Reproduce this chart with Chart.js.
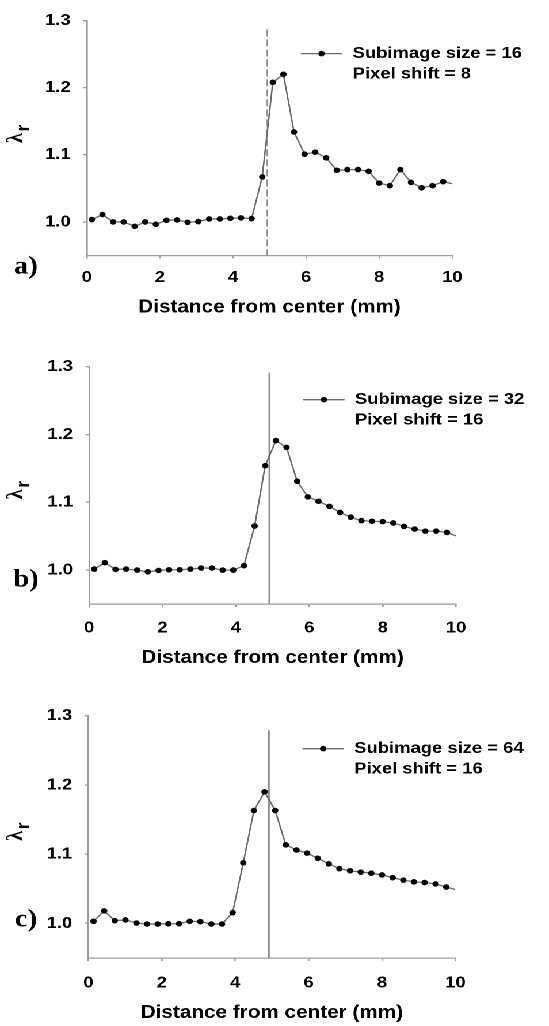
<!DOCTYPE html>
<html>
<head>
<meta charset="utf-8">
<script src="https://cdn.jsdelivr.net/npm/chart.js@4.4.1/dist/chart.umd.min.js"></script>
<style>
  html, body { margin: 0; padding: 0; background: #fff; overflow: hidden; }
  /* the source figure is slightly stretched sideways, so the stage is too */
  #stage { width: 477px; transform: scaleX(1.1509); transform-origin: 0 0; }
  .panel { position: relative; width: 477px; }
</style>
</head>
<body>
<div id="stage">
  <div class="panel" style="height:335px"><canvas id="chartA"></canvas></div>
  <div class="panel" style="height:340px"><canvas id="chartB"></canvas></div>
  <div class="panel" style="height:351px"><canvas id="chartC"></canvas></div>
</div>
<script>
// distance from center (mm), shared by the three profiles
const distance = [0.14, 0.43, 0.72, 1.01, 1.31, 1.60, 1.89, 2.18, 2.47, 2.76,
  3.05, 3.35, 3.64, 3.93, 4.22, 4.51, 4.80, 5.09, 5.38, 5.67,
  5.96, 6.25, 6.55, 6.84, 7.13, 7.42, 7.71, 8.00, 8.29, 8.58,
  8.87, 9.16, 9.46, 9.75, 10.0];

// lambda_r, subimage 16 / shift 8
const lambdaA = [1.0035, 1.011, 1.000, 1.000, 0.9935, 1.000, 0.9965, 1.0025, 1.003, 0.9995,
  1.0005, 1.0045, 1.0045, 1.0055, 1.006, 1.005, 1.067, 1.208, 1.220, 1.134,
  1.101, 1.104, 1.0955, 1.077, 1.078, 1.078, 1.0755, 1.058, 1.054, 1.078,
  1.059, 1.051, 1.054, 1.060, 1.057];

// lambda_r, subimage 32 / shift 16
const lambdaB = [1.0015, 1.011, 1.001, 1.0015, 1.000, 0.9975, 0.9995, 1.0005, 1.0005, 1.0015,
  1.003, 1.003, 1.000, 1.000, 1.0065, 1.065, 1.154, 1.191, 1.181, 1.131,
  1.108, 1.1015, 1.094, 1.085, 1.078, 1.073, 1.072, 1.0715, 1.0695, 1.0645,
  1.0605, 1.0575, 1.0575, 1.0555, 1.0505];

// lambda_r, subimage 64 / shift 16
const lambdaC = [1.003, 1.018, 1.004, 1.005, 1.0005, 0.999, 0.999, 0.9995, 0.9995, 1.003,
  1.0025, 0.999, 0.999, 1.0155, 1.0875, 1.163, 1.190, 1.163, 1.1135, 1.106,
  1.1015, 1.094, 1.086, 1.079, 1.076, 1.074, 1.0725, 1.070, 1.066, 1.0625,
  1.060, 1.059, 1.057, 1.0525, 1.049];

const xTicks = [0, 2, 4, 6, 8, 10];
const yTicks = [1.0, 1.1, 1.2, 1.3];
const panelLetters = ['a)', 'b)', 'c)'];
const subimageSizes = [16, 32, 64];
const pixelShifts = [8, 16, 16];
// vertical marker line: position (mm) and top value
const edgeX = [4.94, 4.91, 4.92];
const edgeTop = [1.287, 1.291, 1.279];

const SANS = '"Liberation Sans", Arial, sans-serif';
const SERIF = '"Liberation Serif", "Times New Roman", serif';
const seriesGrey = '#6a6a6a';
const axisGrey = '#9a9a9a';
const markerR = 2.8;

// layout per panel (canvas px)
const layouts = [
  { top: 17.7, left: 75.4, right: 84, bottom: 16.7, xAxisH: 62.8, xTickPad: 9.4, letterY: 267, titleShift: -3, dashed: true },
  { top: 31.7, left: 77.4, right: 80.7, bottom: 6.2, xAxisH: 64.8, xTickPad: 11.4, letterY: 245, titleShift: 6, dashed: false },
  { top: 40.7, left: 76.8, right: 81.3, bottom: 2.2, xAxisH: 65.8, xTickPad: 12.4, letterY: 245, titleShift: -4, dashed: false }
];

Chart.defaults.color = '#000';
Chart.defaults.font.family = SANS;

// legend, y title and panel letter
const decorPlugin = {
  id: 'decor',
  afterDraw(chart, args, opts) {
    const { ctx, chartArea } = chart;
    ctx.save();

    const ly = chartArea.top + 33;
    ctx.strokeStyle = seriesGrey;
    ctx.lineWidth = 1.3;
    ctx.beginPath();
    ctx.moveTo(chartArea.left + 186, ly);
    ctx.lineTo(chartArea.left + 222, ly);
    ctx.stroke();
    ctx.fillStyle = '#000';
    ctx.beginPath();
    ctx.arc(chartArea.left + 204, ly, markerR, 0, Math.PI * 2);
    ctx.fill();
    ctx.font = 'bold 16px ' + SANS;
    ctx.textAlign = 'left';
    ctx.textBaseline = 'middle';
    ctx.fillText(opts.lines[0], chartArea.left + 231, ly);
    ctx.fillText(opts.lines[1], chartArea.left + 231, ly + 20.5);

    ctx.font = 'bold 25px ' + SERIF;
    ctx.textAlign = 'center';
    ctx.fillText(opts.letter, 22.6, opts.letterY);

    const cy = (chartArea.top + chartArea.bottom) / 2 + opts.titleShift;
    ctx.translate(14, cy);
    ctx.rotate(-Math.PI / 2);
    ctx.font = 'bold 20px ' + SERIF;
    ctx.fillText('λ', -3, 0);
    ctx.font = 'bold 17px ' + SANS;
    ctx.fillText('r', 7, 7);

    ctx.restore();
  }
};

function buildChart(id, values, idx) {
  const L = layouts[idx];
  const last = values.length - 1;
  return new Chart(document.getElementById(id), {
    type: 'scatter',
    data: {
      datasets: [
        {
          data: distance.map((d, i) => ({ x: d, y: values[i] })),
          showLine: true,
          borderColor: seriesGrey,
          borderWidth: 1.3,
          pointBackgroundColor: '#000',
          pointBorderColor: '#000',
          pointBorderWidth: 0,
          pointRadius: (c) => (c.dataIndex === last ? 0 : markerR)
        },
        {
          data: [{ x: edgeX[idx], y: edgeTop[idx] }, { x: edgeX[idx], y: 0.95 }],
          showLine: true,
          borderColor: '#8c8c8c',
          borderWidth: 1.4,
          borderDash: L.dashed ? [7, 3] : [],
          pointRadius: 0
        }
      ]
    },
    options: {
      responsive: true,
      maintainAspectRatio: false,
      animation: false,
      devicePixelRatio: 2,
      layout: { padding: { top: L.top, left: 0, right: L.right, bottom: L.bottom } },
      plugins: {
        legend: { display: false },
        tooltip: { enabled: false },
        decor: {
          lines: ['Subimage size = ' + subimageSizes[idx], 'Pixel shift = ' + pixelShifts[idx]],
          letter: panelLetters[idx],
          letterY: L.letterY,
          titleShift: L.titleShift
        }
      },
      scales: {
        x: {
          type: 'linear',
          min: 0,
          max: 10,
          afterBuildTicks: (s) => { s.ticks = xTicks.map((v) => ({ value: v })); },
          afterFit: (s) => { s.height = L.xAxisH; },
          ticks: { padding: L.xTickPad, maxRotation: 0, font: { size: 16, weight: 'bold' }, color: '#000' },
          grid: { drawOnChartArea: false, color: axisGrey, tickLength: 3, lineWidth: 1.3 },
          border: { display: true, color: axisGrey, width: 1.3 },
          title: {
            display: true,
            text: 'Distance from center (mm)',
            font: { size: 18, weight: 'bold' },
            color: '#000',
            padding: { top: 0, bottom: 0 }
          }
        },
        y: {
          type: 'linear',
          min: 0.95,
          max: 1.3,
          afterBuildTicks: (s) => { s.ticks = yTicks.map((v) => ({ value: v })); },
          afterFit: (s) => { s.width = L.left; },
          ticks: { padding: 11, font: { size: 16, weight: 'bold' }, color: '#000', callback: (v) => Number(v).toFixed(1) },
          grid: { drawOnChartArea: false, color: axisGrey, tickLength: 3, lineWidth: 1.3 },
          border: { display: true, color: axisGrey, width: 1.3 }
        }
      }
    },
    plugins: [decorPlugin]
  });
}

buildChart('chartA', lambdaA, 0);
buildChart('chartB', lambdaB, 1);
buildChart('chartC', lambdaC, 2);
</script>
</body>
</html>
